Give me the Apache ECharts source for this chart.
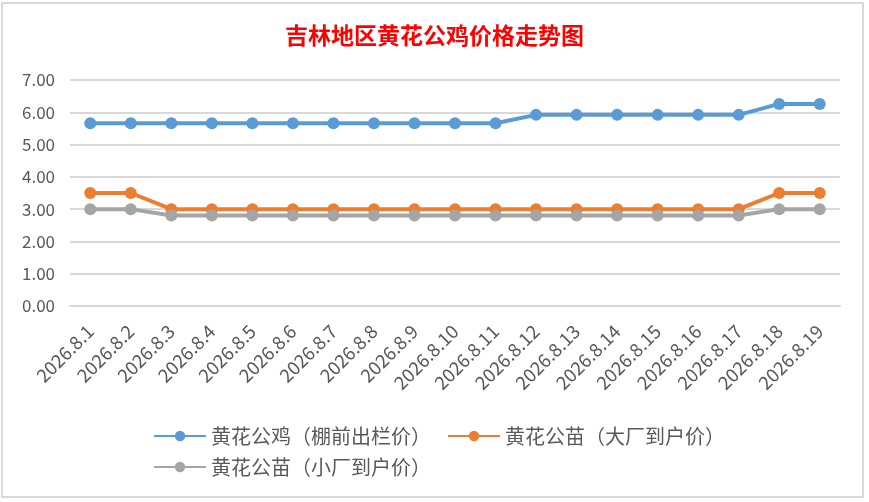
<!DOCTYPE html>
<html><head><meta charset="utf-8">
<script src="https://cdn.jsdelivr.net/npm/echarts@6/dist/echarts.min.js"></script>
<style>html,body{margin:0;padding:0;background:#fff;}#c{width:869px;height:502px;}</style>
</head><body><div id="c"></div>
<script>
const categories = ['2026.8.1','2026.8.2','2026.8.3','2026.8.4','2026.8.5','2026.8.6','2026.8.7','2026.8.8','2026.8.9','2026.8.10','2026.8.11','2026.8.12','2026.8.13','2026.8.14','2026.8.15','2026.8.16','2026.8.17','2026.8.18','2026.8.19'];
const roosterPrice = [5.66,5.66,5.66,5.66,5.66,5.66,5.66,5.66,5.66,5.66,5.66,5.92,5.92,5.92,5.92,5.92,5.92,6.26,6.26];
const chickBigFactory = [3.5,3.5,3.0,3.0,3.0,3.0,3.0,3.0,3.0,3.0,3.0,3.0,3.0,3.0,3.0,3.0,3.0,3.5,3.5];
const chickSmallFactory = [3.0,3.0,2.8,2.8,2.8,2.8,2.8,2.8,2.8,2.8,2.8,2.8,2.8,2.8,2.8,2.8,2.8,3.0,3.0];
const seriesNames = ['黄花公鸡（棚前出栏价）','黄花公苗（大厂到户价）','黄花公苗（小厂到户价）'];
const colors = ['#5B9BD5','#ED7D31','#A5A5A5'];
const font = '"Noto Sans CJK SC", "Noto Sans", sans-serif';

const chart = echarts.init(document.getElementById('c'));
function mk(name, data, color){
  return {name, type:'line', data, symbol:'circle', symbolSize:12,
    itemStyle:{color}, lineStyle:{color, width:4}, animation:false};
}
chart.setOption({
  animation:false,
  textStyle:{fontFamily:font},
  graphic:[{type:'rect', shape:{x:2,y:3,width:861,height:494}, style:{fill:'none', stroke:'#d9d9d9', lineWidth:2}, silent:true, z:-1}],
  title:{text:'吉林地区黄花公鸡价格走势图', left:'center', top:19,
    textStyle:{color:'#FF0000', fontSize:23, fontWeight:'bold', fontFamily:font}},
  legend:[
    {data:[seriesNames[0],seriesNames[1]], left:148, top:421, itemWidth:52, itemHeight:13, itemGap:16,
      textStyle:{color:'#595959', fontSize:20, fontFamily:font}},
    {data:[seriesNames[2]], left:148, top:452, itemWidth:52, itemHeight:13,
      textStyle:{color:'#595959', fontSize:20, fontFamily:font}}
  ],
  grid:{left:70, right:29, top:80, bottom:196, containLabel:false},
  xAxis:{type:'category', data:categories, boundaryGap:true,
    axisLine:{show:true, lineStyle:{color:'#d9d9d9', width:2}},
    axisTick:{show:false},
    axisLabel:{rotate:45, margin:22, color:'#595959', fontSize:18.5, fontFamily:font, interval:0}},
  yAxis:{type:'value', min:0, max:7, interval:1,
    axisLine:{show:false}, axisTick:{show:false},
    splitLine:{lineStyle:{color:'#d9d9d9', width:2}},
    axisLabel:{formatter:v=>v.toFixed(2), margin:15, color:'#595959', fontSize:17, fontFamily:font}},
  series:[mk(seriesNames[0],roosterPrice,colors[0]), mk(seriesNames[1],chickBigFactory,colors[1]), mk(seriesNames[2],chickSmallFactory,colors[2])]
});
</script></body></html>
